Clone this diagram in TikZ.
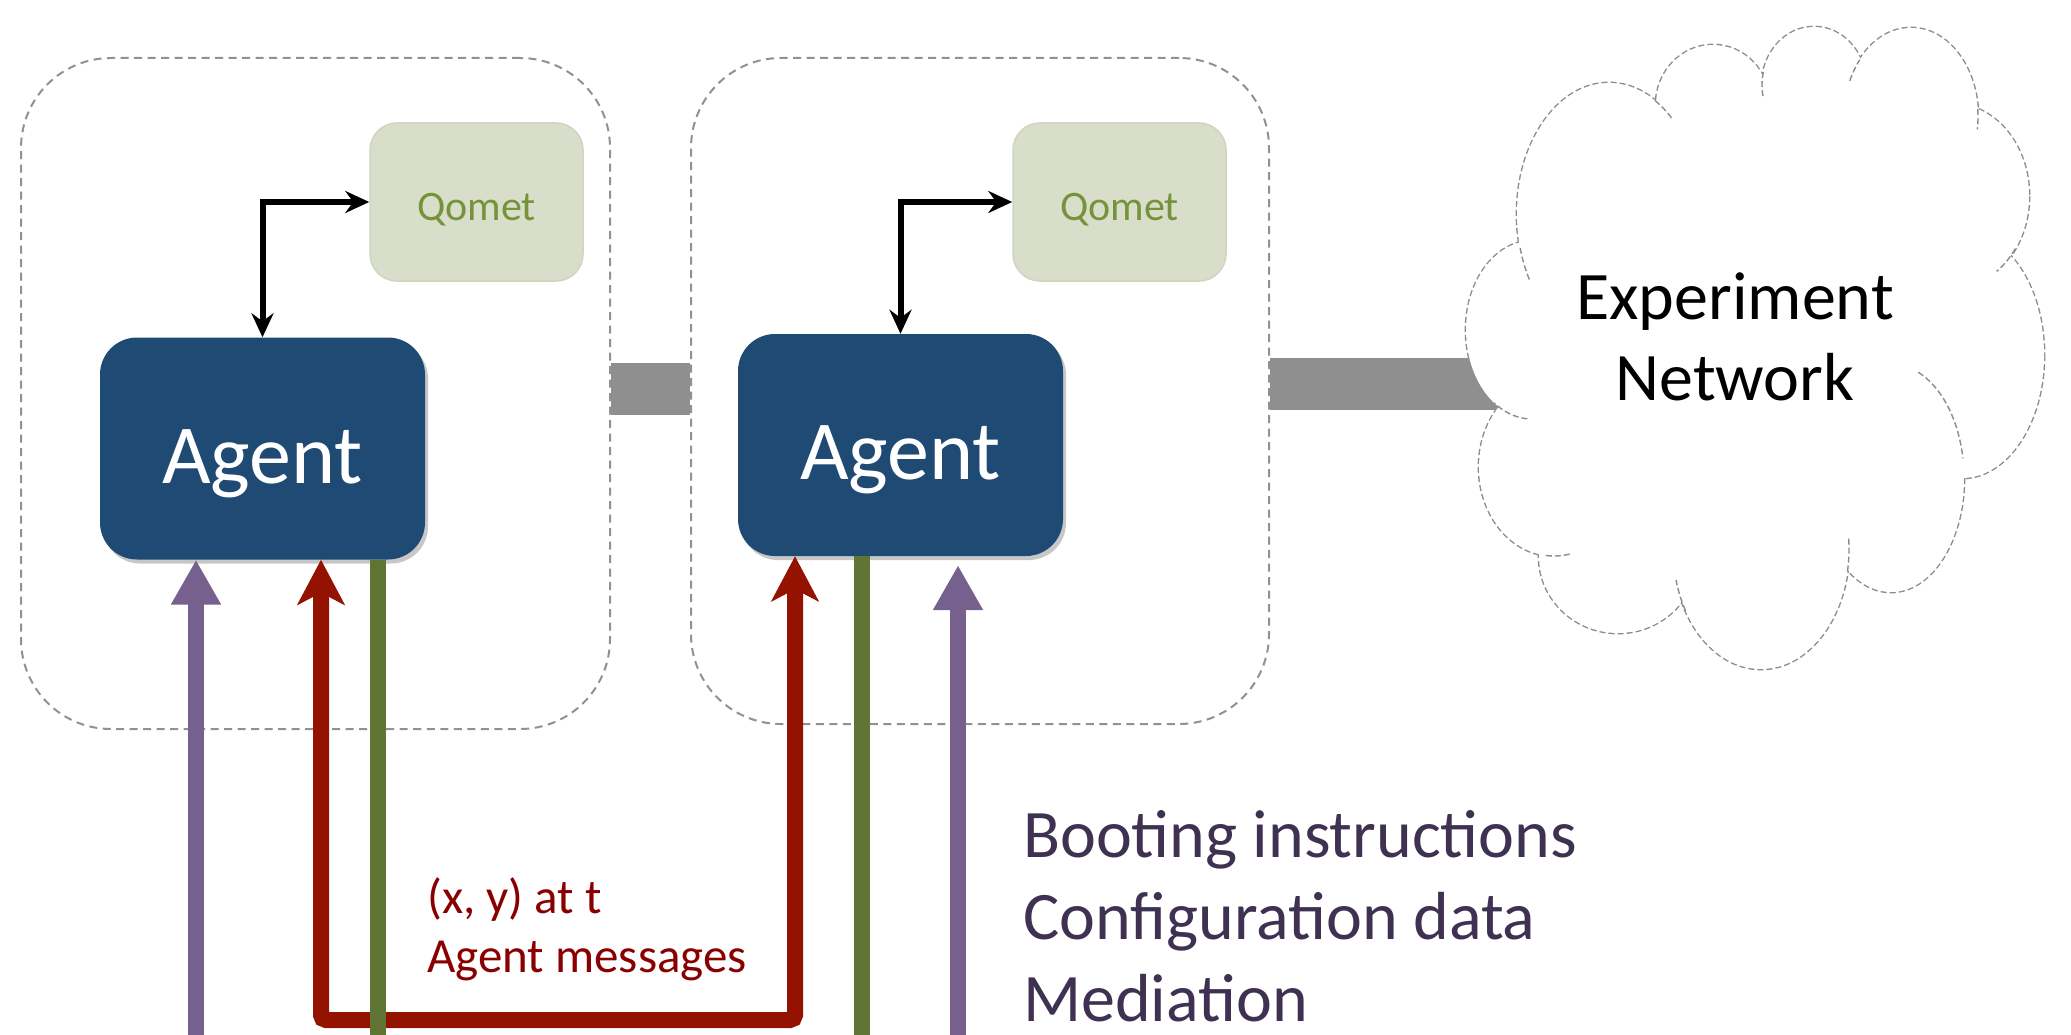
\documentclass[tikz,border=0pt]{standalone}
\usepackage{fontspec}
\setmainfont{Carlito}
\usetikzlibrary{arrows.meta,shadows}
\definecolor{agentblue}{HTML}{1F4A74}
\definecolor{zonegray}{HTML}{919191}
\definecolor{bargray}{HTML}{8F8F8F}
\definecolor{qfill}{HTML}{D9DECB}
\definecolor{qedge}{HTML}{CFD6BF}
\definecolor{qtext}{HTML}{76933C}
\definecolor{purp}{HTML}{76608E}
\definecolor{redarr}{HTML}{941200}
\definecolor{grn}{HTML}{607434}
\definecolor{msgred}{HTML}{8A0000}
\definecolor{bootpurp}{HTML}{3F3151}
\definecolor{cloudgray}{HTML}{8C8C8C}
\newcommand\cloudtail[6]{\draw[cloudline] (#1,#2) ++(#5:#3 and #4) arc[start angle=#5, end angle=#6, x radius=#3, y radius=#4];}
\begin{document}
\begin{tikzpicture}[x=1pt,y=-1pt,
  zone/.style={draw=zonegray, line width=2pt, dash pattern=on 8pt off 5.5pt, rounded corners=90pt, inner sep=0pt},
  agent/.style={fill=agentblue, rounded corners=37pt, minimum width=325pt, minimum height=222pt, inner sep=0pt,
    text=white, font=\fontsize{84}{100}\selectfont, text height=86pt, text depth=17pt,
    drop shadow={shadow xshift=3pt, shadow yshift=-4pt, opacity=0.22, fill=black}},
  qomet/.style={fill=qfill, draw=qedge, line width=1.5pt, rounded corners=27pt, minimum width=213pt, minimum height=158pt, inner sep=0pt,
    text=qtext, font=\fontsize{42}{50}\selectfont, text height=45pt, text depth=8pt},
  ctl/.style={line width=6pt, {Stealth[length=24pt,width=22pt,inset=8pt]}-{Stealth[length=24pt,width=22pt,inset=8pt]}},
  purplearrow/.style={draw=purp, line width=16pt, -{Triangle[length=45pt,width=47pt]}},
  redline/.style={draw=redarr, line width=16pt, rounded corners=5pt, {Stealth[length=45pt,width=47pt,inset=12pt]}-{Stealth[length=45pt,width=47pt,inset=12pt]}},
  greenline/.style={draw=grn, line width=16pt},
  bar/.style={draw=bargray, line width=52pt},
  msg/.style={text=msgred, font=\fontsize{49}{59}\selectfont, inner sep=0pt, anchor=base west},
  boot/.style={text=bootpurp, font=\fontsize{68}{82}\selectfont, inner sep=0pt, anchor=base west},
  cloudtext/.style={text=black, font=\fontsize{68}{82}\selectfont, inner sep=0pt, anchor=base},
  cloudline/.style={draw=cloudgray, line width=1.4pt, dash pattern=on 6pt off 3pt},
]
\fill[white] (0,0) rectangle (2071,1035);
\useasboundingbox (0,0) rectangle (2071,1035);

% dashed zones
\node[zone, minimum width=589pt, minimum height=671pt] (zone1) at (315.5,393.5) {};
\node[zone, minimum width=578pt, minimum height=666pt] (zone2) at (980,391) {};

% link between zones
\draw[bar] ([yshift=4.5pt]zone1.east) -- ([yshift=2pt]zone2.west);

% agents and qomet
\node[agent] (ag1) at (262.5,448.5) {Agent};
\node[agent] (ag2) at (900.5,445) {Agent};
\node[qomet] (q1) at (476.5,202) {Qomet};
\node[qomet] (q2) at (1119.5,202) {Qomet};

\draw[ctl] (ag1.north) |- (q1.west);
\draw[ctl] (ag2.north) |- (q2.west);

% helper coordinates
\coordinate (bottom) at (0,1050);
\coordinate (rbot) at (0,1020);
\coordinate (r1) at ([xshift=58.5pt]ag1.south);
\coordinate (r2) at ([xshift=-105.5pt]ag2.south);
\coordinate (pu1) at ([xshift=-66.5pt]ag1.south);
\coordinate (pu2) at ([xshift=57.5pt,yshift=-9pt]ag2.south);
\coordinate (g1) at ([xshift=115.5pt]ag1.south);
\coordinate (g2) at ([xshift=-38.5pt]ag2.south);

\draw[purplearrow] (pu1 |- bottom) -- (pu1);
\draw[purplearrow] (pu2 |- bottom) -- (pu2);
\draw[redline] (r1) -- (r1 |- rbot) -- (r2 |- rbot) -- (r2);
\draw[greenline] (g1) -- (g1 |- bottom);
\draw[greenline] (g2) -- (g2 |- bottom);

% labels
\node[msg] (m1) at (427,913) {(x, y) at t};
\node[msg] (m2) at (427,972) {Agent messages};
\node[boot] (b1) at (1023,857) {Booting instructions};
\node[boot] (b2) at (1023,939) {Configuration data};
\node[boot] (b3) at (1023,1021) {Mediation};

% cloud
\def\puffs{1609/214/92/131, 1713/105/57/60, 1814/85/52/58, 1911/117/67/89, 1953/196/76/92, 1962/355/82/123, 1891/478/73/114, 1761/549/88/120, 1618/556/79/77, 1554/467/75/89, 1532/330/66/89}
\foreach \cx/\cy/\rx/\ry in \puffs {
  \draw[cloudline, line width=2.8pt] (\cx,\cy) ellipse[x radius=\rx, y radius=\ry];
}
\coordinate (cloudW) at (1500,384);
\draw[bar] ([yshift=7pt]zone2.east) -- (cloudW);
\fill[white] foreach \cx/\cy/\rx/\ry in \puffs {(\cx,\cy) ellipse[x radius=\rx, y radius=\ry]} (1755,350) ellipse[x radius=215, y radius=240];
\cloudtail{1609}{214}{92}{131}{-60}{-46}
\cloudtail{1814}{85}{52}{58}{169}{193}
\cloudtail{1911}{117}{67}{89}{204}{220}
\cloudtail{1911}{117}{67}{89}{-5}{8}
\cloudtail{1953}{196}{76}{92}{35}{55}
\cloudtail{1891}{478}{73}{114}{-68}{-10}
\cloudtail{1761}{549}{88}{120}{-5}{11}
\cloudtail{1761}{549}{88}{120}{149}{165}
\cloudtail{1554}{467}{75}{89}{78}{98}
\cloudtail{1532}{330}{66}{89}{94}{125}
\cloudtail{1609}{214}{92}{131}{150}{165}

\node[cloudtext] (e1) at (1735,319) {Experiment};
\node[cloudtext] (e2) at (1735,400) {Network};
\end{tikzpicture}
\end{document}
